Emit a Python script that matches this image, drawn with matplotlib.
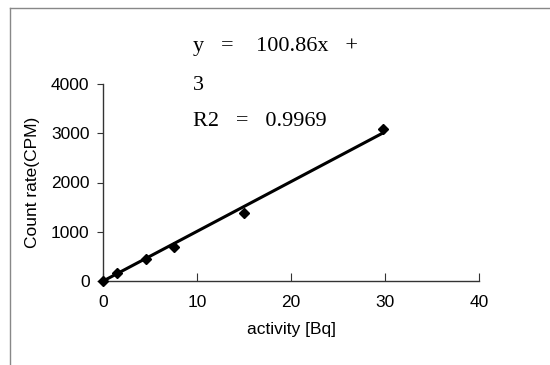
import matplotlib
matplotlib.use("Agg")
import matplotlib.pyplot as plt
from matplotlib.lines import Line2D
import numpy as np

activity = [0, 1.5, 4.5, 7.5, 15, 29.8]
count_rate = [0, 170, 440, 700, 1380, 3080]
slope = 100.86
intercept = 3
r2 = 0.9969
x_ticks = [0, 10, 20, 30, 40]
y_ticks = [0, 1000, 2000, 3000, 4000]

fig = plt.figure(figsize=(5.5, 3.65), dpi=100)
ax = fig.add_axes([0.188, 0.23, 0.683, 0.54])

sans = "Liberation Sans"
serif = "Liberation Serif"

xf = np.array([0, max(activity)])
ax.plot(xf, slope * xf + intercept, color="black", lw=2.2, zorder=2)
ax.plot(activity, count_rate, linestyle="none", marker="D", ms=5.5,
        color="black", zorder=3, clip_on=False)

ax.set_xlim(0, 40)
ax.set_ylim(0, 4000)
ax.set_xticks(x_ticks)
ax.set_yticks(y_ticks)
for s in ["top", "right"]:
    ax.spines[s].set_visible(False)
for s in ["left", "bottom"]:
    ax.spines[s].set_color("#333333")
    ax.spines[s].set_linewidth(1.0)
ax.tick_params(axis="x", direction="in", length=6, pad=10, color="#333333")
ax.tick_params(axis="y", direction="out", length=4, pad=6, color="#333333")
for lab in ax.get_xticklabels() + ax.get_yticklabels():
    lab.set_fontfamily(sans)
    lab.set_fontsize(12.5)
ax.set_xlabel("activity [Bq]", fontfamily=sans, fontsize=12.5, labelpad=9)
ax.set_ylabel("Count rate(CPM)", fontfamily=sans, fontsize=12.5, labelpad=8)

fig.text(193 / 550, 1 - 47 / 365, "y   =    100.86x   +", family=serif,
         fontsize=16, va="center", ha="left")
fig.text(193 / 550, 1 - 85 / 365, "3", family=serif,
         fontsize=16, va="center", ha="left")
fig.text(193 / 550, 1 - 122 / 365, f"R2   =   {r2}", family=serif,
         fontsize=16, va="center", ha="left")

fig.add_artist(Line2D([10 / 550, 1], [1 - 8 / 365, 1 - 8 / 365],
                      transform=fig.transFigure, color="#888888", lw=1))
fig.add_artist(Line2D([10 / 550, 10 / 550], [0, 1 - 8 / 365],
                      transform=fig.transFigure, color="#888888", lw=1))

fig.savefig("out.png", dpi=100)
